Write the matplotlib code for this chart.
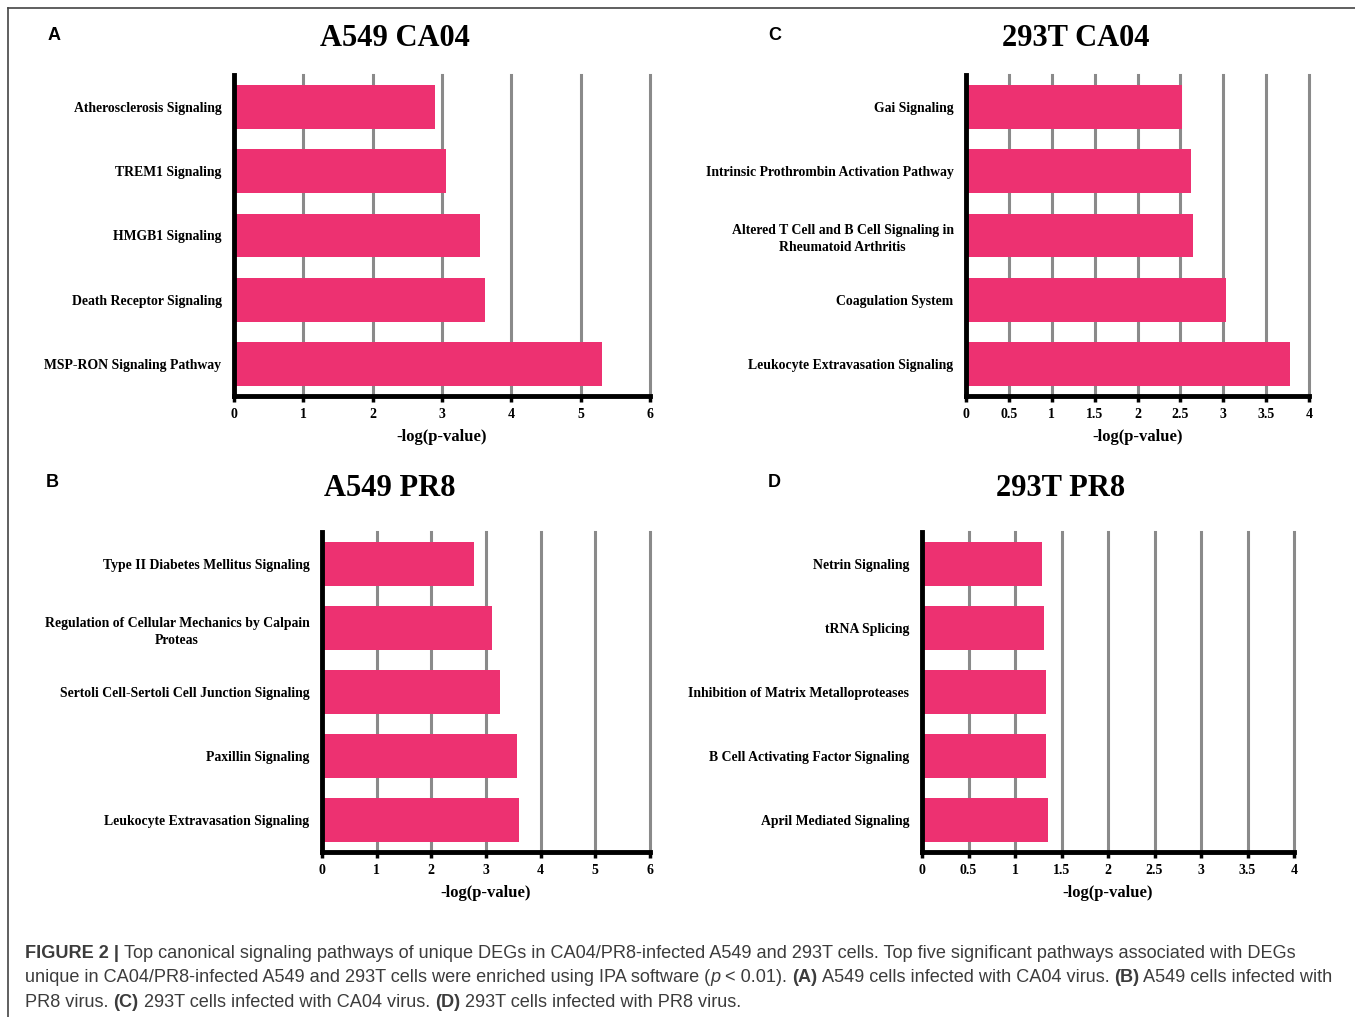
import matplotlib
matplotlib.use('Agg')
import matplotlib.pyplot as plt
from matplotlib.lines import Line2D

# panel data (top to bottom)
a_names = ['Atherosclerosis Signaling', 'TREM1 Signaling', 'HMGB1 Signaling',
           'Death Receptor Signaling', 'MSP-RON Signaling Pathway']
a_vals = [2.90, 3.06, 3.55, 3.62, 5.31]

c_names = ['Gai Signaling', 'Intrinsic Prothrombin Activation Pathway',
           'Altered T Cell and B Cell Signaling in\nRheumatoid Arthritis',
           'Coagulation System', 'Leukocyte Extravasation Signaling']
c_vals = [2.52, 2.62, 2.65, 3.03, 3.78]

b_names = ['Type II Diabetes Mellitus Signaling',
           'Regulation of Cellular Mechanics by Calpain\nProteas',
           'Sertoli Cell-Sertoli Cell Junction Signaling',
           'Paxillin Signaling', 'Leukocyte Extravasation Signaling']
b_vals = [2.78, 3.11, 3.26, 3.56, 3.61]

d_names = ['Netrin Signaling', 'tRNA Splicing',
           'Inhibition of Matrix Metalloproteases',
           'B Cell Activating Factor Signaling', 'April Mediated Signaling']
d_vals = [1.29, 1.31, 1.33, 1.33, 1.36]

a_ticks = [0, 1, 2, 3, 4, 5, 6]
half_ticks = [0, 0.5, 1, 1.5, 2, 2.5, 3, 3.5, 4]

W, H = 1355, 1017
fig = plt.figure(figsize=(W / 100, H / 100), dpi=100)

BAR = '#ED3171'
SERIF = 'Liberation Serif'


def px_axes(x0, x1, ytop, ybot):
    return fig.add_axes([x0 / W, 1 - ybot / H, (x1 - x0) / W, (ybot - ytop) / H])


def panel(box, names, vals, ticks, title, tx, ty, letter, lx, ly, xlab_y):
    ax = px_axes(*box)
    y = list(range(len(vals)))
    ax.barh(y, vals, height=0.68, color=BAR, zorder=3)
    ax.set_ylim(len(vals) - 0.5, -0.5)
    ax.set_xlim(ticks[0], ticks[-1])
    ax.set_xticks(ticks)
    ax.set_xticklabels([('%g' % t) for t in ticks], fontfamily=SERIF,
                       fontweight='bold', fontsize=10)
    ax.set_yticks(y)
    ax.set_yticklabels(names, fontfamily=SERIF, fontweight='bold', fontsize=9.9,
                       multialignment='center', linespacing=1.45)
    ax.tick_params(axis='y', length=0, pad=9)
    ax.tick_params(axis='x', length=4, width=2.5, pad=5, color='black')
    for t in ticks[1:]:
        ax.axvline(t, color='#8a8a8a', lw=2.2, zorder=1, clip_on=False)
    for s in ['top', 'right']:
        ax.spines[s].set_visible(False)
    ax.spines['left'].set_linewidth(3.5)
    ax.spines['bottom'].set_linewidth(3.5)
    ax.spines['left'].set_zorder(5)
    ax.spines['bottom'].set_zorder(5)
    fig.text(tx / W, 1 - ty / H, title, fontfamily=SERIF, fontweight='bold',
             fontsize=22, ha='center', va='center')
    fig.text(lx / W, 1 - ly / H, letter, fontfamily='Liberation Sans',
             fontweight='bold', fontsize=13, ha='center', va='center')
    x0, x1 = box[0], box[1]
    fig.text((x0 + x1) / 2 / W, 1 - xlab_y / H, '-log(p-value)', fontfamily=SERIF,
             fontweight='bold', fontsize=12, ha='center', va='center')
    return ax


panel((234, 650, 75, 396), a_names, a_vals, a_ticks, 'A549 CA04', 395, 39, 'A', 54, 36, 437)
panel((966, 1309, 75, 396), c_names, c_vals, half_ticks, '293T CA04', 1076, 39, 'C', 775, 35, 437)
panel((322, 650, 532, 852), b_names, b_vals, a_ticks, 'A549 PR8', 390, 489, 'B', 52, 483, 893)
panel((922, 1294, 532, 852), d_names, d_vals, half_ticks, '293T PR8', 1061, 488, 'D', 774, 483, 893)

# frame lines
fig.add_artist(Line2D([8 / W, 1], [1 - 8 / H, 1 - 8 / H], color='#444444', lw=1.2))
fig.add_artist(Line2D([8 / W, 8 / W], [0, 1 - 8 / H], color='#444444', lw=1.2))

# caption
renderer = fig.canvas.get_renderer()
CAP = 'Liberation Sans'
CAP_SIZE = 13.1
CAP_COLOR = '#3c3c3c'


def text_w(s, weight, style):
    t1 = fig.text(0, 0, '|' + s + '|', fontfamily=CAP, fontsize=CAP_SIZE,
                  fontweight=weight, fontstyle=style)
    t2 = fig.text(0, 0, '||', fontfamily=CAP, fontsize=CAP_SIZE,
                  fontweight=weight, fontstyle=style)
    w = t1.get_window_extent(renderer).width - t2.get_window_extent(renderer).width
    t1.remove()
    t2.remove()
    return w


def rich_line(x, y, parts):
    for s, weight, style in parts:
        fig.text(x / W, 1 - y / H, s, fontfamily=CAP, fontsize=CAP_SIZE,
                 fontweight=weight, fontstyle=style, color=CAP_COLOR, va='baseline')
        x += text_w(s, weight, style)


N, B, I = ('normal', 'normal'), ('bold', 'normal'), ('normal', 'italic')
cap_lines = [
    [('FIGURE 2 | ',) + B,
     ('Top canonical signaling pathways of unique DEGs in CA04/PR8-infected A549 and 293T cells. '
      'Top five significant pathways associated with DEGs',) + N],
    [('unique in CA04/PR8-infected A549 and 293T cells were enriched using IPA software (',) + N,
     ('p',) + I, (' < 0.01). ',) + N, ('(A)',) + B,
     (' A549 cells infected with CA04 virus. ',) + N, ('(B)',) + B,
     (' A549 cells infected with',) + N],
    [('PR8 virus. ',) + N, ('(C)',) + B, (' 293T cells infected with CA04 virus. ',) + N,
     ('(D)',) + B, (' 293T cells infected with PR8 virus.',) + N],
]
for k, parts in enumerate(cap_lines):
    rich_line(25, 958 + 24.5 * k, parts)

fig.savefig('out.png', dpi=100)
